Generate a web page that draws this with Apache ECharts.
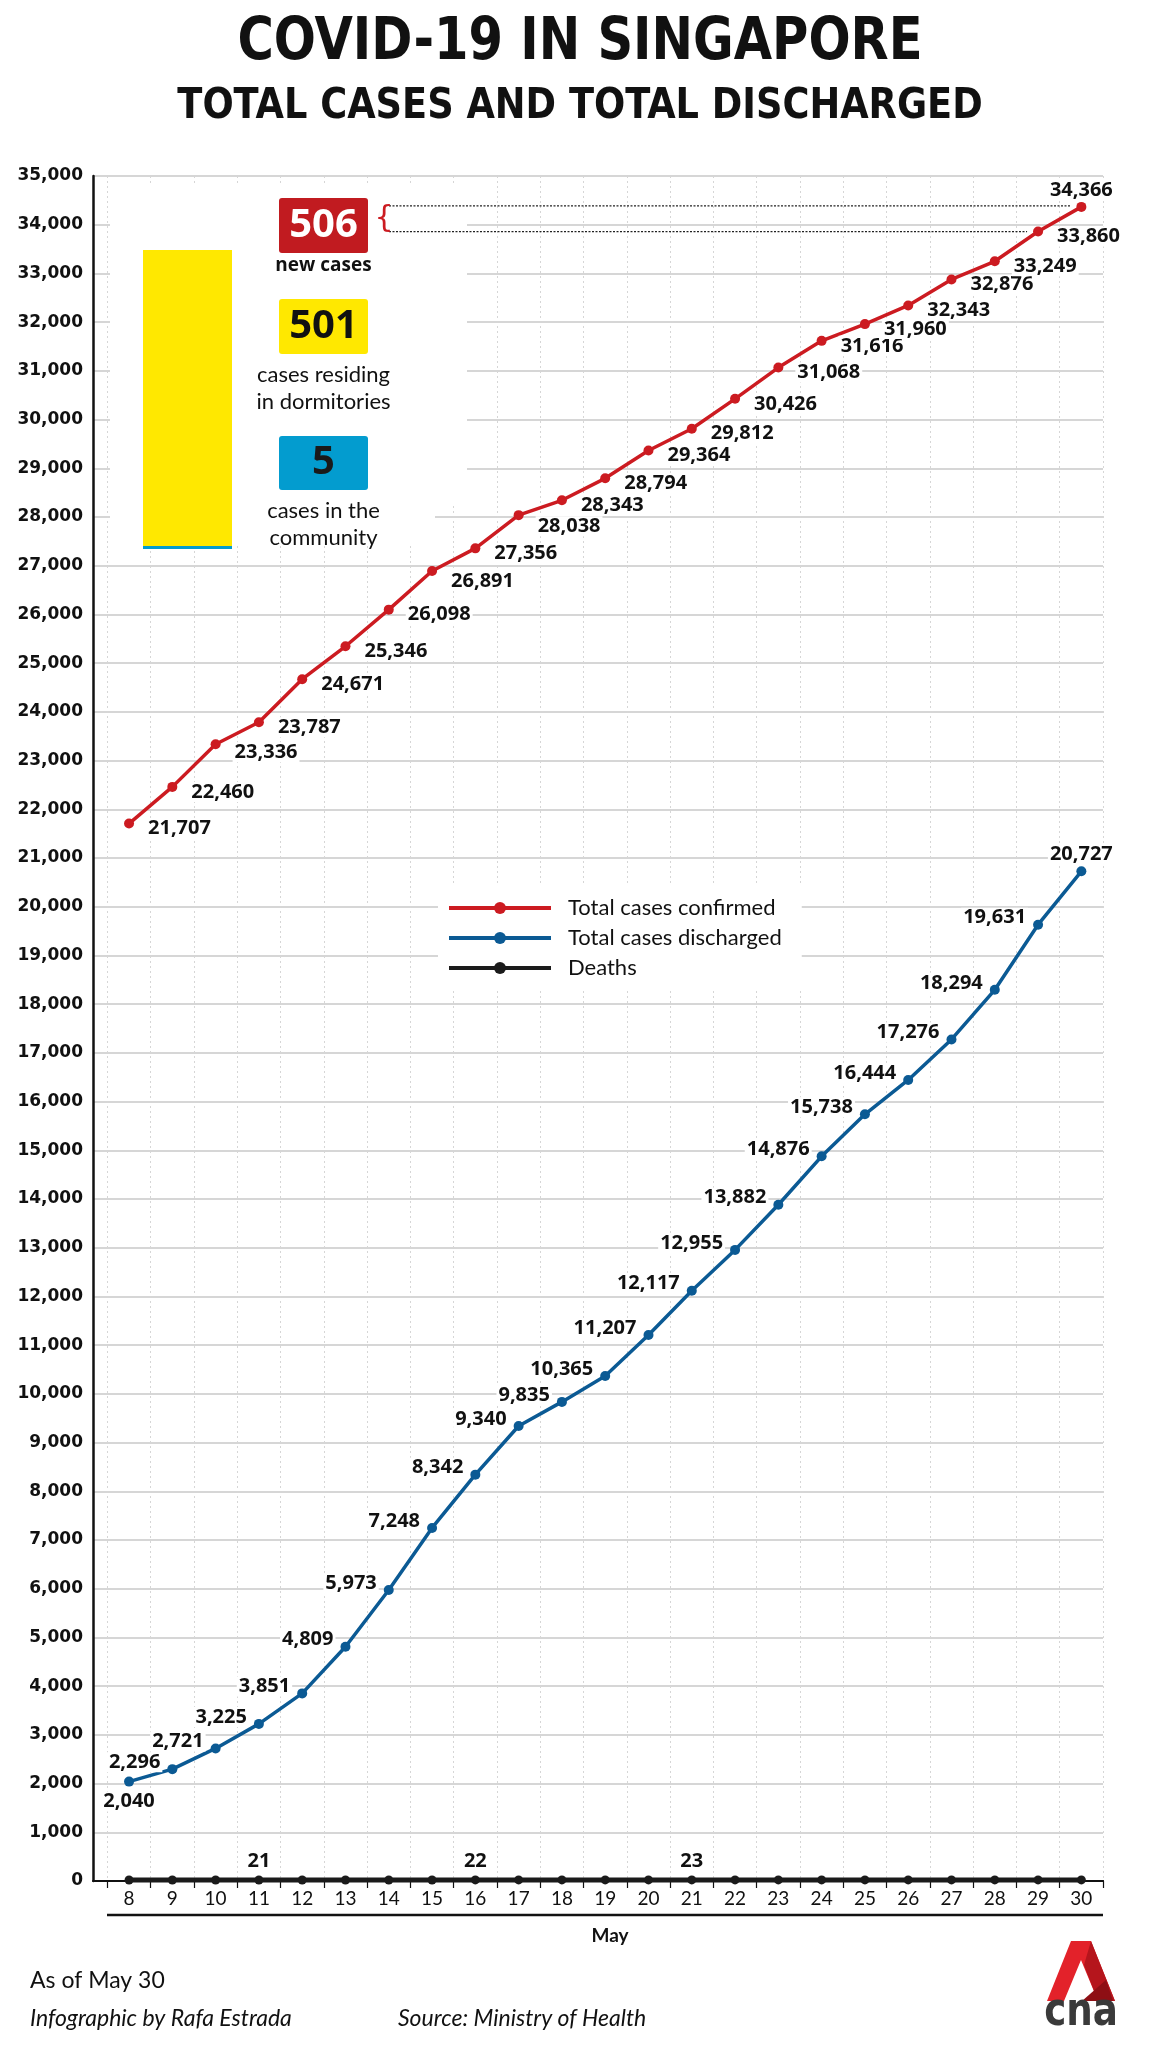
<!DOCTYPE html>
<html>
<head>
<meta charset="utf-8">
<script src="https://cdn.jsdelivr.net/npm/echarts@6/dist/echarts.min.js"></script>
<style>
html,body{margin:0;padding:0;background:#fff;}
#c{width:1152px;height:2048px;}
</style>
</head>
<body>
<div id="c"></div>
<script>
// ---------- DATA ----------
const categories = ['8','9','10','11','12','13','14','15','16','17','18','19','20','21','22','23','24','25','26','27','28','29','30'];
const confirmed = [21707,22460,23336,23787,24671,25346,26098,26891,27356,28038,28343,28794,29364,29812,30426,31068,31616,31960,32343,32876,33249,33860,34366];
const discharged = [2040,2296,2721,3225,3851,4809,5973,7248,8342,9340,9835,10365,11207,12117,12955,13882,14876,15738,16444,17276,18294,19631,20727];
const deaths = [20,20,20,21,21,21,21,21,22,22,22,22,22,23,23,23,23,23,23,23,23,23,23];
const deathLabelIdx = [3,8,13];
const seriesNames = ['Total cases confirmed','Total cases discharged','Deaths'];
const newCases = 506;
const dormCases = 501;
const communityCases = 5;
const yMin = 0, yMax = 35000, yStep = 1000;

// ---------- STYLE ----------
const RED = '#cc1b21', BLUE = '#0b5a94', BLACK = '#1b1b1b';
const YELLOW = '#ffe800', CYAN = '#039ccf', BOXRED = '#c11b20';
const COND = "'Liberation Sans Narrow','DejaVu Sans Condensed',sans-serif";
const fmt = v => Number(v).toLocaleString('en-US');
// label nudges (pixels) for a few crowded points of the confirmed series
const confLabelDy = { 7: 10, 9: 11, 2: 8 };

const labelBase = {
  show: true, color: '#111', fontFamily: 'Open Sans', fontWeight: 'bold', fontSize: 20,
  backgroundColor: '#fff', padding: [0, 2], lineHeight: 20,
  formatter: p => fmt(p.value)
};

const confData = confirmed.map((v, i) => {
  if (i === confirmed.length - 1) return { value: v, label: { position: 'top', distance: 2, offset: [0, 0] } };
  if (confLabelDy[i] !== undefined) return { value: v, label: { offset: [0, confLabelDy[i]] } };
  return v;
});
const disData = discharged.map((v, i) => {
  if (i === 0) return { value: v, label: { position: 'bottom', distance: 5, offset: [0, 0] } };
  if (i === discharged.length - 1) return { value: v, label: { position: 'top', distance: 2, offset: [0, 0] } };
  return v;
});
const deathData = deaths.map((v, i) => ({ value: v, label: { show: deathLabelIdx.includes(i) } }));

const chart = echarts.init(document.getElementById('c'), null, { renderer: 'canvas' });

const gridTop = 176, gridBottom = 167, gridRight = 49;

// panel geometry
const barTop = 250, barH = 299;
const yellowH = barH * dormCases / newCases;

const option = {
  animation: false,
  backgroundColor: '#fff',
  grid: [
    { left: 93, right: gridRight, top: gridTop, bottom: gridBottom },
    { left: 107.4, right: gridRight, top: gridTop, bottom: gridBottom }
  ],
  xAxis: [
    { gridIndex: 0, type: 'value', min: 0, max: 1,
      axisLine: { show: true, lineStyle: { color: '#111', width: 2 } },
      axisTick: { show: false }, axisLabel: { show: false }, splitLine: { show: false } },
    { gridIndex: 1, type: 'category', data: categories, boundaryGap: true,
      axisLine: { show: true, lineStyle: { color: '#111', width: 2 } },
      axisTick: { show: true, interval: 0, length: 7, lineStyle: { color: '#111', width: 1.2 } },
      axisLabel: { interval: 0, margin: 8, color: '#111', fontFamily: 'Lato', fontSize: 19 },
      splitLine: { show: true, interval: 0, lineStyle: { color: '#d6d6d6', type: [2, 3], width: 1 } } }
  ],
  yAxis: [
    { gridIndex: 0, type: 'value', min: yMin, max: yMax, interval: yStep,
      axisLine: { show: true, lineStyle: { color: '#111', width: 2.5 } },
      axisTick: { show: false },
      axisLabel: { margin: 10, color: '#111', fontFamily: 'DejaVu Sans', fontWeight: 'bold', fontSize: 17, formatter: v => fmt(v) },
      splitLine: { show: true, lineStyle: { color: '#c9c9c9', width: 1.5 } } },
    { gridIndex: 1, type: 'value', min: yMin, max: yMax, interval: yStep, show: false, splitLine: { show: false } }
  ],
  legend: {
    data: seriesNames, orient: 'vertical', left: 438, top: 886,
    padding: [10, 20, 10, 9], itemGap: 6, itemWidth: 102, itemHeight: 15,
    backgroundColor: '#fff', selectedMode: false,
    lineStyle: { width: 4 },
    textStyle: { fontFamily: 'Lato', fontSize: 22, color: '#111', lineHeight: 24, padding: [0, 0, 0, 12] }
  },
  series: [
    { name: seriesNames[0], type: 'line', xAxisIndex: 1, yAxisIndex: 1, data: confData,
      symbol: 'circle', symbolSize: 10, color: RED, lineStyle: { color: RED, width: 3.5 },
      itemStyle: { color: RED },
      label: Object.assign({}, labelBase, { position: 'right', distance: 12, offset: [0, 5] }) },
    { name: seriesNames[1], type: 'line', xAxisIndex: 1, yAxisIndex: 1, data: disData,
      symbol: 'circle', symbolSize: 10, color: BLUE, lineStyle: { color: BLUE, width: 3.5 },
      itemStyle: { color: BLUE },
      label: Object.assign({}, labelBase, { position: 'left', distance: 5, offset: [0, -7] }) },
    { name: seriesNames[2], type: 'line', xAxisIndex: 1, yAxisIndex: 1, data: deathData,
      symbol: 'circle', symbolSize: 9, color: BLACK, lineStyle: { color: BLACK, width: 5 },
      itemStyle: { color: BLACK },
      label: Object.assign({}, labelBase, { position: 'top', distance: 4, backgroundColor: 'transparent', show: false }) }
  ],
  graphic: [
    // titles
    { id: 't1', type: 'text', z: 5, x: 580, y: 44, scaleX: 0.95,
      style: { text: 'COVID-19 IN SINGAPORE', x: 0, y: 0, align: 'center', verticalAlign: 'middle',
      font: "bold 58px " + COND, fill: '#111' } },
    { id: 't2', type: 'text', z: 5, x: 580, y: 107, scaleX: 0.95,
      style: { text: 'TOTAL CASES AND TOTAL DISCHARGED', x: 0, y: 0, align: 'center', verticalAlign: 'middle',
      font: "bold 43px " + COND, fill: '#111' } },
    // white cover for panel
    { id: 'cov1', type: 'rect', z: 1, shape: { x: 110, y: 186, width: 357, height: 320 }, style: { fill: '#fff' } },
    { id: 'cov2', type: 'rect', z: 1, shape: { x: 110, y: 505, width: 325, height: 41 }, style: { fill: '#fff' } },
    // proportional bar
    { id: 'barY', type: 'rect', z: 3, shape: { x: 143, y: barTop, width: 89, height: yellowH }, style: { fill: YELLOW } },
    { id: 'barB', type: 'rect', z: 3, shape: { x: 143, y: barTop + yellowH, width: 89, height: barH - yellowH }, style: { fill: CYAN } },
    // boxes
    { id: 'b1', type: 'rect', z: 3, shape: { x: 279, y: 198, width: 89, height: 55, r: 3 }, style: { fill: BOXRED } },
    { id: 'b1t', type: 'text', z: 4, style: { text: String(newCases), x: 323.5, y: 226, align: 'center', verticalAlign: 'middle', font: "bold 40px 'Open Sans'", fill: '#fff' } },
    { id: 'b1l', type: 'text', z: 4, style: { text: 'new cases', x: 323.5, y: 266, align: 'center', verticalAlign: 'middle', font: "bold 19px 'Open Sans'", fill: '#111' } },
    { id: 'b2', type: 'rect', z: 3, shape: { x: 279, y: 299, width: 89, height: 55, r: 3 }, style: { fill: YELLOW } },
    { id: 'b2t', type: 'text', z: 4, style: { text: String(dormCases), x: 323.5, y: 327, align: 'center', verticalAlign: 'middle', font: "bold 40px 'Open Sans'", fill: '#111' } },
    { id: 'b2l1', type: 'text', z: 4, style: { text: 'cases residing', x: 323.5, y: 375, align: 'center', verticalAlign: 'middle', font: "22px Lato", fill: '#111' } },
    { id: 'b2l2', type: 'text', z: 4, style: { text: 'in dormitories', x: 323.5, y: 402, align: 'center', verticalAlign: 'middle', font: "22px Lato", fill: '#111' } },
    { id: 'b3', type: 'rect', z: 3, shape: { x: 279, y: 436, width: 89, height: 54, r: 3 }, style: { fill: CYAN } },
    { id: 'b3t', type: 'text', z: 4, style: { text: String(communityCases), x: 323.5, y: 463, align: 'center', verticalAlign: 'middle', font: "bold 40px 'Open Sans'", fill: '#1a1a1a' } },
    { id: 'b3l1', type: 'text', z: 4, style: { text: 'cases in the', x: 323.5, y: 511, align: 'center', verticalAlign: 'middle', font: "22px Lato", fill: '#111' } },
    { id: 'b3l2', type: 'text', z: 4, style: { text: 'community', x: 323.5, y: 538, align: 'center', verticalAlign: 'middle', font: "22px Lato", fill: '#111' } },
    // brace
    { id: 'brace', type: 'text', z: 4, style: { text: '{', x: 384, y: 219, align: 'center', verticalAlign: 'middle', font: "30px 'DejaVu Sans'", fill: RED } },
    // second axis rule and "May"
    { id: 'rule', type: 'line', z: 3, shape: { x1: 107, y1: 1915, x2: 1103, y2: 1915 }, style: { stroke: '#111', lineWidth: 2.5 } },
    { id: 'may', type: 'text', z: 4, style: { text: 'May', x: 610, y: 1936, align: 'center', verticalAlign: 'middle', font: "bold 19px Lato", fill: '#111' } },
    // footer
    { id: 'f1', type: 'text', z: 4, style: { text: 'As of May 30', x: 30, y: 1981, align: 'left', verticalAlign: 'middle', font: "23px Lato", fill: '#111' } },
    { id: 'f2', type: 'text', z: 4, style: { text: 'Infographic by Rafa Estrada', x: 30, y: 2019, align: 'left', verticalAlign: 'middle', font: "italic 23px Lato", fill: '#111' } },
    { id: 'f3', type: 'text', z: 4, style: { text: 'Source: Ministry of Health', x: 398, y: 2019, align: 'left', verticalAlign: 'middle', font: "italic 23px Lato", fill: '#111' } },
    // CNA logo
    { id: 'lg1', type: 'polygon', z: 4, shape: { points: [[1071,1941],[1091,1941],[1115,2001],[1098,2001],[1081,1960],[1064,2001],[1047,2001]] }, style: { fill: '#e3222a' } },
    { id: 'lg2', type: 'polygon', z: 5, shape: { points: [[1091,1941],[1115,2001],[1098,2001],[1084,1965]] }, style: { fill: '#b5151c' } },
    { id: 'lg3', type: 'polygon', z: 5, shape: { points: [[1082,2001],[1106,1980],[1113,2001]] }, style: { fill: '#8e0f14' } },
    { id: 'lgt', type: 'text', z: 5, x: 1081, y: 2013, scaleX: 0.9,
      style: { text: 'cna', x: 0, y: 0, align: 'center', verticalAlign: 'middle', font: "bold 46px " + COND, fill: '#3a3a3a' } }
  ]
};

chart.setOption(option);

// dotted connector lines from the brace to the last two confirmed points
const n = confirmed.length;
const pLast = chart.convertToPixel({ xAxisIndex: 1, yAxisIndex: 1 }, [n - 1, confirmed[n - 1]]);
const pPrev = chart.convertToPixel({ xAxisIndex: 1, yAxisIndex: 1 }, [n - 2, confirmed[n - 2]]);
chart.setOption({
  graphic: [
    { id: 'dl1', type: 'line', z: 3, shape: { x1: 389, y1: pLast[1] - 1, x2: pLast[0] - 11, y2: pLast[1] - 1 },
      style: { stroke: '#222', lineWidth: 1.3, lineDash: [2, 1.5] } },
    { id: 'dl2', type: 'line', z: 3, shape: { x1: 389, y1: pPrev[1], x2: pPrev[0] - 11, y2: pPrev[1] },
      style: { stroke: '#222', lineWidth: 1.3, lineDash: [2, 1.5] } }
  ]
});
</script>
</body>
</html>
